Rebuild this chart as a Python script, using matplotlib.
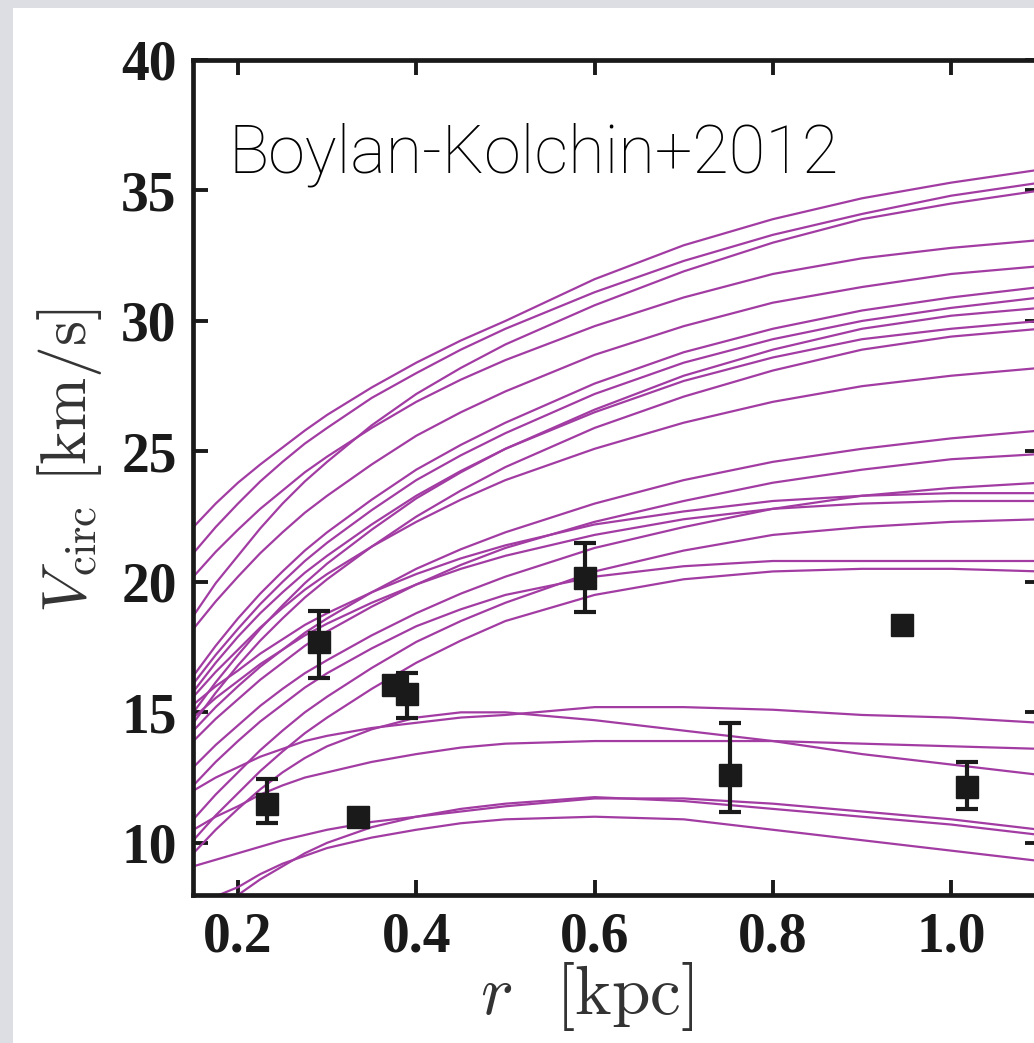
import matplotlib
matplotlib.use('Agg')
import matplotlib.pyplot as plt
from matplotlib.patches import Rectangle
from matplotlib.font_manager import FontProperties

# ---------------- data ----------------
r_grid = [0.15, 0.175, 0.2, 0.225, 0.25, 0.275, 0.3, 0.35, 0.4, 0.45, 0.5,
          0.6, 0.7, 0.8, 0.9, 1.0, 1.1]

curves = [
    [22.1, 23.0, 23.8, 24.5, 25.15, 25.8, 26.4, 27.45, 28.4, 29.25, 30.0, 31.6, 32.9, 33.9, 34.7, 35.3, 35.8],
    [21.1, 22.1, 23.0, 23.85, 24.6, 25.3, 25.9, 27.05, 28.0, 28.9, 29.7, 31.1, 32.3, 33.3, 34.1, 34.8, 35.3],
    [18.7, 19.95, 21.0, 22.05, 23.0, 23.85, 24.6, 26.0, 27.2, 28.2, 29.1, 30.6, 31.9, 33.0, 33.9, 34.5, 35.0],
    [20.2, 21.15, 22.0, 22.8, 23.5, 24.2, 24.8, 25.9, 26.9, 27.75, 28.5, 29.8, 30.9, 31.8, 32.4, 32.8, 33.1],
    [18.2, 19.25, 20.2, 21.1, 21.9, 22.65, 23.3, 24.5, 25.6, 26.5, 27.3, 28.7, 29.8, 30.7, 31.3, 31.8, 32.1],
    [16.4, 17.55, 18.6, 19.55, 20.4, 21.2, 21.9, 23.15, 24.3, 25.25, 26.1, 27.6, 28.8, 29.7, 30.4, 30.9, 31.3],
    [16.1, 17.2, 18.2, 19.15, 20.0, 20.8, 21.5, 22.75, 23.9, 24.85, 25.7, 27.2, 28.4, 29.3, 30.0, 30.5, 30.9],
    [15.0, 16.15, 17.2, 18.2, 19.1, 19.95, 20.7, 22.0, 23.2, 24.2, 25.1, 26.6, 27.9, 28.9, 29.7, 30.2, 30.5],
    [15.8, 16.9, 17.9, 18.8, 19.6, 20.35, 21.0, 22.2, 23.3, 24.25, 25.1, 26.5, 27.7, 28.6, 29.3, 29.7, 30.0],
    [14.6, 15.75, 16.8, 17.75, 18.6, 19.4, 20.1, 21.35, 22.5, 23.5, 24.4, 25.9, 27.1, 28.1, 28.9, 29.4, 29.7],
    [15.6, 16.55, 17.4, 18.25, 19.0, 19.7, 20.3, 21.35, 22.3, 23.15, 23.9, 25.1, 26.1, 26.9, 27.5, 27.9, 28.2],
    [14.3, 15.2, 16.0, 16.75, 17.4, 18.05, 18.6, 19.6, 20.5, 21.25, 21.9, 23.0, 23.9, 24.6, 25.1, 25.5, 25.8],
    [13.9, 14.75, 15.5, 16.25, 16.9, 17.55, 18.1, 19.05, 19.9, 20.65, 21.3, 22.3, 23.1, 23.8, 24.3, 24.7, 24.9],
    [12.9, 13.75, 14.5, 15.25, 15.9, 16.5, 17.0, 17.95, 18.8, 19.55, 20.2, 21.3, 22.1, 22.8, 23.3, 23.6, 23.8],
    [15.3, 16.0, 16.6, 17.25, 17.8, 18.35, 18.8, 19.6, 20.3, 20.9, 21.4, 22.2, 22.7, 23.1, 23.3, 23.4, 23.4],
    [14.8, 15.55, 16.2, 16.85, 17.4, 17.95, 18.4, 19.2, 19.9, 20.5, 21.0, 21.8, 22.4, 22.8, 23.0, 23.1, 23.1],
    [10.9, 11.85, 12.7, 13.55, 14.3, 15.0, 15.6, 16.7, 17.7, 18.5, 19.2, 20.4, 21.2, 21.8, 22.1, 22.3, 22.4],
    [12.2, 13.1, 13.9, 14.65, 15.3, 15.95, 16.5, 17.45, 18.3, 18.95, 19.5, 20.2, 20.6, 20.8, 20.8, 20.8, 20.8],
    [10.1, 11.05, 11.9, 12.75, 13.5, 14.2, 14.8, 15.9, 16.9, 17.75, 18.5, 19.5, 20.1, 20.4, 20.5, 20.5, 20.4],
    [12.0, 12.5, 12.9, 13.3, 13.6, 13.9, 14.1, 14.4, 14.6, 14.8, 14.9, 15.2, 15.2, 15.1, 14.9, 14.8, 14.6],
    [10.5, 11.0, 11.4, 11.85, 12.2, 12.5, 12.7, 13.1, 13.4, 13.65, 13.8, 13.9, 13.9, 13.9, 13.8, 13.7, 13.6],
    [9.6, 10.5, 11.3, 12.05, 12.7, 13.25, 13.7, 14.35, 14.8, 15.0, 15.0, 14.7, 14.3, 13.9, 13.4, 13.0, 12.6],
    [9.1, 9.35, 9.6, 9.85, 10.1, 10.3, 10.5, 10.8, 11.0, 11.2, 11.4, 11.7, 11.7, 11.5, 11.2, 10.9, 10.5],
    [6.5, 7.3, 8.0, 8.6, 9.1, 9.6, 10.0, 10.6, 11.0, 11.3, 11.5, 11.75, 11.6, 11.3, 11.0, 10.7, 10.3],
    [7.6, 7.95, 8.3, 8.8, 9.2, 9.5, 9.8, 10.2, 10.5, 10.75, 10.9, 11.0, 10.9, 10.5, 10.1, 9.7, 9.3],
]

obs_r = [0.2325, 0.291, 0.335, 0.374, 0.39, 0.589, 0.752, 0.945, 1.018]
obs_v = [11.5, 17.7, 11.0, 16.05, 15.7, 20.15, 12.6, 18.35, 12.15]
obs_err_lo = [0.75, 1.4, 0.0, 0.0, 0.9, 1.3, 1.4, 0.0, 0.85]
obs_err_hi = [0.95, 1.2, 0.0, 0.0, 0.8, 1.35, 2.0, 0.0, 0.95]

xticks = [0.2, 0.4, 0.6, 0.8, 1.0]
xtick_labels = ['0.2', '0.4', '0.6', '0.8', '1.0']
yticks = [10, 15, 20, 25, 30, 35, 40]
ytick_labels = ['10', '15', '20', '25', '30', '35', '40']

# ---------------- figure ----------------
plt.rcParams['mathtext.fontset'] = 'cm'
W, H = 1034, 1043
fig = plt.figure(figsize=(W / 100, H / 100), dpi=100)
fig.patch.set_facecolor('#dcdee3')
fig.patches.append(Rectangle((13 / W, 0), 1, (H - 8) / H, transform=fig.transFigure,
                             facecolor='white', edgecolor='none', zorder=-1))

ax = fig.add_axes([193.4 / W, (H - 895) / H, 846.9 / W, 835 / H])
ax.set_facecolor('white')

purple = '#a23ca3'
for c in curves:
    ax.plot(r_grid, c, color=purple, lw=1.6, solid_joinstyle='round')

ax.errorbar(obs_r, obs_v, yerr=[obs_err_lo, obs_err_hi], fmt='s', color='#1a1a1a',
            ms=16, elinewidth=3, capsize=8, capthick=3, zorder=5)

ax.set_xlim(0.15, 1.1)
ax.set_ylim(8, 40)

ax.set_xticks(xticks)
ax.set_xticklabels(xtick_labels)
ax.set_yticks(yticks)
ax.set_yticklabels(ytick_labels)

tick_fp = FontProperties(family='Liberation Serif', weight='bold', size=40)
for lab in ax.get_xticklabels() + ax.get_yticklabels():
    lab.set_fontproperties(tick_fp)
    lab.set_color('#1a1a1a')

ax.tick_params(direction='in', length=11, width=2.8, color='#1a1a1a',
               top=True, right=True, pad=12)
for s in ax.spines.values():
    s.set_linewidth(3.4)
    s.set_color('#1a1a1a')

ax.set_ylabel(r'$V_{\rm circ}$ $[{\rm km/s}]$', fontsize=46, color='#333333')
ax.yaxis.set_label_coords(-0.105, 0.52)
ax.set_xlabel(r'$r$  $[{\rm kpc}]$', fontsize=50, color='#333333')
ax.xaxis.set_label_coords(0.465, -0.078)

ax.text(0.041, 0.925, 'Boylan-Kolchin+2012', transform=ax.transAxes,
        fontsize=48, family='Roboto', weight='light', color='black', va='top', ha='left')

fig.savefig('out.png', dpi=100, facecolor=fig.get_facecolor())
